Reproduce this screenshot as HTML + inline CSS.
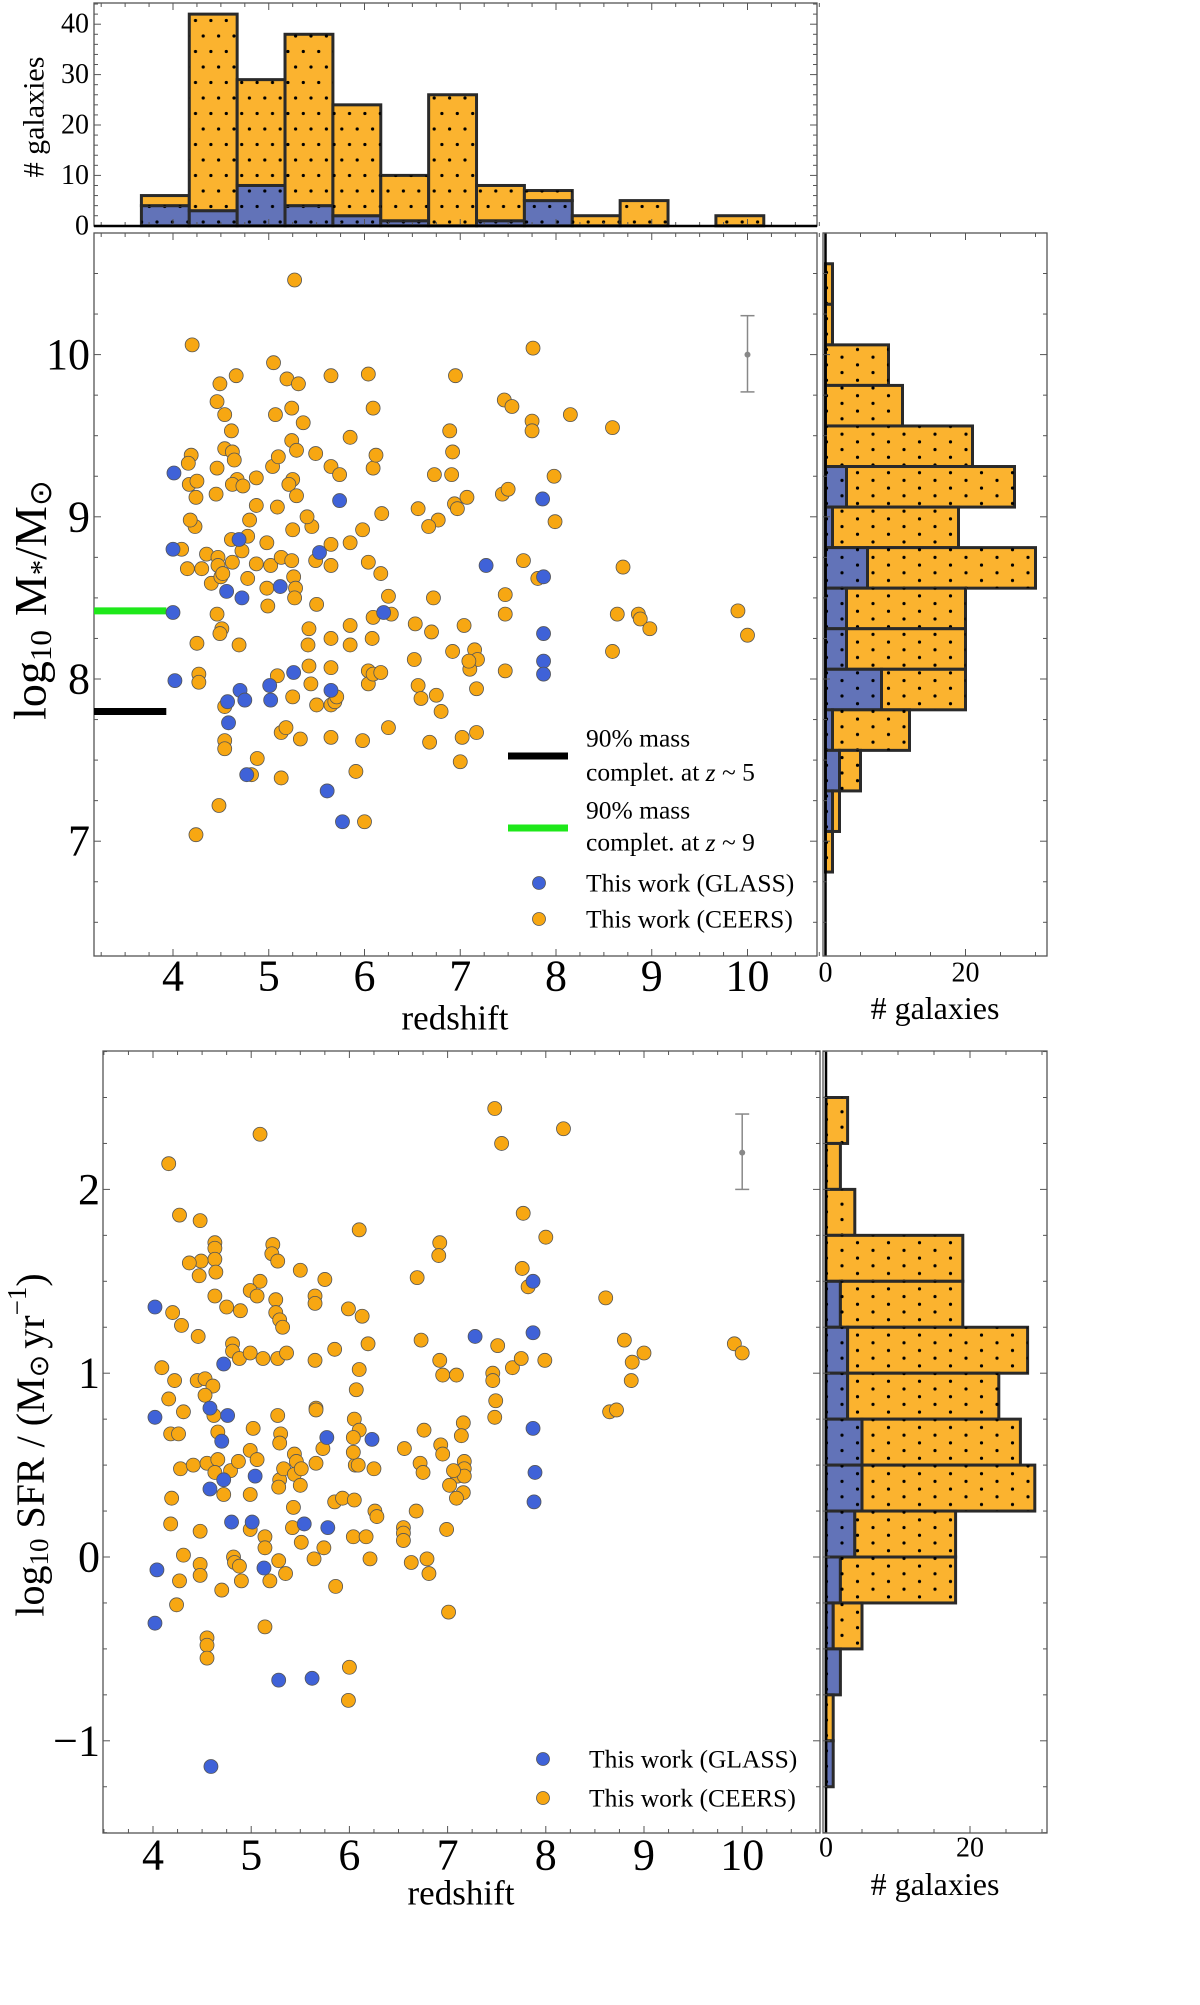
<!DOCTYPE html>
<html><head><meta charset="utf-8"><style>
html,body{margin:0;padding:0;background:#fff;}
svg{display:block;font-family:"Liberation Serif",serif;}
</style></head><body>
<svg id="fig" width="1200" height="2005" viewBox="0 0 1200 2005" xmlns="http://www.w3.org/2000/svg">
<defs>
<pattern id="dots" width="15.4" height="31" patternUnits="userSpaceOnUse">
<circle cx="3" cy="5" r="1.6" fill="#000"/><circle cx="10.7" cy="20.5" r="1.6" fill="#000"/>
</pattern>
<pattern id="dotsH" width="31" height="15.4" patternUnits="userSpaceOnUse">
<circle cx="5" cy="3" r="1.6" fill="#000"/><circle cx="20.5" cy="10.7" r="1.6" fill="#000"/>
</pattern>
</defs>
<g id="root"></g>
</svg>
<script>
// ---------- DATA ----------
const topBinStart = 3.67, topBinWidth = 0.5;
const topGlass = [4,3,8,4,2,1,0,1,5,0,0,0,0];
const topTotal = [6,42,29,38,24,10,26,8,7,2,5,0,2];
const massBinTop = 10.56, massBinWidth = 0.25;
const massGlass = [0,0,0,0,0,3,1,6,3,3,8,1,2,1,0];
const massTotal = [1,1,9,11,21,27,19,30,20,20,20,12,5,2,1];
const sfrBinTop = 2.5, sfrBinWidth = 0.25;
const sfrGlass = [0,0,0,0,2,3,3,5,5,4,2,1,2,0,1];
const sfrTotal = [3,2,4,19,19,28,24,27,29,18,18,5,2,1,1];

const aGlassZ = [4.01,4.0,4.0,4.02,4.56,4.69,4.72,4.58,4.57,4.70,4.75,4.77,5.01,5.02,5.12,5.26,5.53,5.65,5.61,5.77,5.74,6.20,7.27,7.86,7.87,7.87,7.87,7.87];
const aGlassM = [9.27,8.80,8.41,7.99,8.54,8.86,8.50,7.73,7.86,7.93,7.87,7.41,7.96,7.87,8.57,8.04,8.78,7.93,7.31,7.12,9.10,8.41,8.70,9.11,8.63,8.28,8.11,8.03];
const aCeersZ = [5.27,4.20,7.76,5.05,4.66,4.49,5.19,5.31,5.65,6.04,6.95,4.46,4.54,5.07,5.24,6.09,7.46,7.54,8.15,8.59,7.75,7.75,6.89,4.61,5.36,5.85,4.19,4.16,4.54,4.62,4.64,4.46,4.67,4.62,4.17,4.25,4.24,4.45,4.73,4.87,5.04,5.10,5.24,5.29,5.25,5.21,5.29,5.49,5.65,5.74,6.09,6.12,6.73,6.91,6.92,7.07,6.94,6.97,6.56,6.77,6.67,6.18,5.98,5.85,5.65,5.45,5.40,5.09,5.25,4.80,4.87,4.23,4.18,4.09,4.15,4.30,4.35,4.40,4.47,4.47,4.50,4.52,4.61,4.62,4.72,4.78,4.78,4.87,4.98,4.98,4.99,5.02,5.13,5.24,5.26,5.28,5.27,5.49,5.65,5.50,5.42,5.41,5.42,5.65,5.65,5.85,5.85,6.04,6.17,6.25,6.28,6.09,6.08,6.53,6.70,6.72,7.04,6.92,7.15,7.18,7.10,7.09,7.17,7.47,7.47,7.47,7.66,7.81,7.44,7.50,7.98,7.99,8.70,8.59,8.64,8.86,8.88,8.98,9.90,10.0,4.25,4.27,4.27,4.46,4.51,4.49,4.69,4.54,4.54,4.54,4.48,4.24,4.88,4.82,5.09,5.25,5.13,5.13,5.18,5.33,5.44,5.50,5.65,5.65,5.69,5.71,5.91,5.98,6.00,6.04,6.04,6.09,6.17,6.25,6.56,6.59,6.75,6.80,6.68,7.00,7.02,7.17,6.52];
const aCeersM = [10.46,10.06,10.04,9.95,9.87,9.82,9.85,9.82,9.87,9.88,9.87,9.71,9.63,9.63,9.67,9.67,9.72,9.68,9.63,9.55,9.59,9.53,9.53,9.53,9.58,9.49,9.38,9.33,9.42,9.40,9.35,9.30,9.23,9.20,9.20,9.22,9.12,9.14,9.19,9.24,9.31,9.37,9.47,9.41,9.23,9.20,9.13,9.39,9.31,9.26,9.30,9.38,9.26,9.26,9.40,9.12,9.08,9.05,9.05,8.98,8.94,9.02,8.92,8.84,8.83,8.94,9.00,9.06,8.92,8.98,9.07,8.94,8.98,8.80,8.68,8.68,8.77,8.59,8.75,8.70,8.63,8.65,8.86,8.72,8.79,8.88,8.62,8.71,8.84,8.56,8.45,8.70,8.75,8.73,8.63,8.56,8.50,8.73,8.70,8.46,8.31,8.21,8.08,8.25,8.07,8.33,8.21,8.72,8.65,8.51,8.40,8.38,8.25,8.34,8.29,8.50,8.33,8.17,8.18,8.12,8.06,8.11,7.94,8.05,8.40,8.52,8.73,8.62,9.14,9.17,9.25,8.97,8.69,8.17,8.40,8.40,8.37,8.31,8.42,8.27,8.22,8.03,7.98,8.40,8.31,8.28,8.21,7.83,7.62,7.57,7.22,7.04,7.51,7.41,8.02,7.89,7.39,7.67,7.70,7.63,7.97,7.84,7.64,7.84,7.86,7.89,7.43,7.62,7.12,8.05,7.97,8.03,8.04,7.70,7.96,7.88,7.90,7.80,7.61,7.49,7.64,7.67,8.12];

const bGlassZ = [4.02,4.02,4.04,4.02,4.58,4.58,4.72,4.70,4.76,4.72,4.59,4.80,5.04,5.01,5.13,5.28,5.54,5.62,5.77,5.78,6.23,7.28,7.87,7.87,7.87,7.89,7.88];
const bGlassS = [1.36,0.76,-0.07,-0.36,0.81,0.37,1.05,0.63,0.77,0.42,-1.14,0.19,0.44,0.19,-0.06,-0.67,0.18,-0.66,0.65,0.16,0.64,1.20,1.50,1.22,0.70,0.46,0.30];
const bCeersZ = [7.48,7.55,8.18,5.09,4.16,4.27,4.48,6.10,7.77,8.00,4.63,4.63,4.63,4.64,4.49,4.37,4.47,5.22,5.21,5.27,5.09,5.50,5.75,6.69,6.92,6.91,7.76,7.82,8.61,4.99,5.06,4.63,4.75,4.89,4.20,4.29,4.46,5.25,5.25,5.29,5.32,5.65,5.65,5.99,6.13,4.81,4.81,4.88,4.99,5.12,5.27,5.36,5.65,5.85,6.19,6.10,6.07,6.73,6.92,6.95,7.09,7.46,7.46,7.51,7.66,7.75,7.99,8.80,9.00,8.88,8.87,9.92,10.0,8.65,8.72,7.49,7.48,4.09,4.22,4.45,4.53,4.61,4.53,4.16,4.31,4.62,4.18,4.26,4.66,5.02,5.27,5.30,5.29,5.66,5.66,6.05,6.10,6.04,6.76,6.56,6.93,6.95,7.16,7.14,7.17,7.17,7.10,7.17,7.16,7.09,7.02,7.06,6.72,6.75,4.28,4.41,4.55,4.66,4.63,4.72,4.79,4.87,4.99,4.99,5.06,5.29,5.28,5.33,5.44,5.46,5.44,5.51,5.50,5.66,5.73,6.06,6.09,6.25,6.04,5.85,5.93,6.05,6.26,6.28,6.68,6.99,6.55,6.55,6.55,4.19,4.18,4.48,4.99,5.14,5.43,5.42,5.51,5.74,6.04,6.17,5.14,4.31,4.82,4.83,4.48,4.88,5.28,5.64,6.21,6.63,6.79,6.81,4.27,4.48,4.70,4.90,5.19,5.35,5.86,4.24,5.14,7.01,4.55,4.55,4.55,6.00,5.99];
const bCeersS = [2.44,2.25,2.33,2.30,2.14,1.86,1.83,1.78,1.87,1.74,1.71,1.68,1.62,1.55,1.61,1.60,1.53,1.70,1.65,1.61,1.50,1.56,1.51,1.52,1.71,1.64,1.57,1.47,1.41,1.45,1.42,1.42,1.36,1.34,1.33,1.26,1.20,1.40,1.33,1.29,1.25,1.42,1.38,1.35,1.31,1.16,1.12,1.08,1.11,1.08,1.08,1.11,1.07,1.13,1.16,1.02,0.91,1.18,1.07,0.99,0.99,1.00,0.96,1.15,1.03,1.08,1.07,1.18,1.11,1.06,0.96,1.16,1.11,0.79,0.80,0.85,0.76,1.03,0.96,0.96,0.97,0.93,0.88,0.86,0.79,0.77,0.67,0.67,0.68,0.70,0.77,0.67,0.62,0.81,0.80,0.75,0.69,0.65,0.69,0.59,0.61,0.56,0.73,0.66,0.52,0.48,0.44,0.44,0.35,0.32,0.39,0.47,0.51,0.46,0.48,0.50,0.51,0.53,0.46,0.34,0.47,0.52,0.58,0.34,0.53,0.42,0.38,0.48,0.56,0.52,0.45,0.48,0.39,0.51,0.59,0.50,0.50,0.48,0.57,0.30,0.32,0.31,0.25,0.22,0.25,0.15,0.16,0.13,0.09,0.32,0.18,0.14,0.15,0.11,0.27,0.16,0.08,0.05,0.11,0.11,0.05,0.01,0.00,-0.03,-0.04,-0.05,-0.02,-0.01,-0.01,-0.03,-0.01,-0.09,-0.13,-0.10,-0.18,-0.13,-0.13,-0.09,-0.16,-0.26,-0.38,-0.30,-0.44,-0.48,-0.55,-0.60,-0.78];

const xTicks = [4,5,6,7,8,9,10];
const massTicks = [7,8,9,10];
const sfrTicks = [-1,0,1,2];
const topCountTicks = [0,10,20,30,40];
const sideCountTicks = [0,20];

// ---------- SCALES ----------
const xA = z => 173 + (z-4)*95.75;
const yM = m => 354.6 - (m-10)*162.2;
const yH = c => 225.8 - c*5.04;
const xCA = c => 825.5 + c*7.0;
const xB = z => 153 + (z-4)*98.2;
const yS = s => 1557 - s*183.8;
const xCB = c => 826 + c*7.2;

const NS = "http://www.w3.org/2000/svg";
const root = document.getElementById('root');
function el(tag, attrs, parent){
  const e = document.createElementNS(NS, tag);
  for (const k in attrs) e.setAttribute(k, attrs[k]);
  (parent||root).appendChild(e);
  return e;
}
function txt(x,y,s,size,anchor,parent){
  const t = el('text',{x:x,y:y,'font-size':size,'text-anchor':anchor||'middle','dominant-baseline':'central',fill:'#000'},parent);
  t.textContent = s;
  return t;
}
function frame(x0,y0,x1,y1,name){
  const r = el('rect',{x:x0,y:y0,width:x1-x0,height:y1-y0,fill:'none',stroke:'#555','stroke-width':1.3});
  
  
}
function xMinorTicks(scale, lo, hi, step, y0, y1){
  for (let v = lo; v <= hi+1e-9; v += step){
    const major = Math.abs(v-Math.round(v))<1e-6;
    const L = major?7:4;
    el('line',{x1:scale(v),x2:scale(v),y1:y1,y2:y1-L,stroke:'#555','stroke-width':1});
    el('line',{x1:scale(v),x2:scale(v),y1:y0,y2:y0+L,stroke:'#555','stroke-width':1});
  }
}
function yMinorTicks(scale, lo, hi, step, x0, x1, majorStep){
  for (let v = lo; v <= hi+1e-9; v += step){
    const major = Math.abs(v/majorStep-Math.round(v/majorStep))<1e-6;
    const L = major?7:4;
    el('line',{y1:scale(v),y2:scale(v),x1:x0,x2:x0+L,stroke:'#555','stroke-width':1});
    el('line',{y1:scale(v),y2:scale(v),x1:x1,x2:x1-L,stroke:'#555','stroke-width':1});
  }
}

// ---------- TOP HISTOGRAM ----------
const gTop = el('g',{});


frame(94,3,817,226,'redshift-histogram-frame');
xMinorTicks(xA, 3.25, 10.75, 0.25, 3, 226);
yMinorTicks(yH, 0, 44, 2, 94, 817, 10);
topTotal.forEach((tot,i)=>{
  const x0 = xA(topBinStart+i*topBinWidth), x1 = xA(topBinStart+(i+1)*topBinWidth);
  const b = topGlass[i];
  if (b>0){
    const r1 = el('rect',{x:x0,y:yH(b),width:x1-x0,height:yH(0)-yH(b),fill:'#6273b8',stroke:'#2a2a2a','stroke-width':3},gTop);
    
    
    el('rect',{x:x0,y:yH(b),width:x1-x0,height:yH(0)-yH(b),fill:'url(#dots)'},gTop);
  }
  if (tot>b){
    const r2 = el('rect',{x:x0,y:yH(tot),width:x1-x0,height:yH(b)-yH(tot),fill:'#fbb32f',stroke:'#2a2a2a','stroke-width':3},gTop);
    
    
    el('rect',{x:x0,y:yH(tot),width:x1-x0,height:yH(b)-yH(tot),fill:'url(#dots)'},gTop);
  }
});
el('line',{x1:94,x2:817,y1:226,y2:226,stroke:'#000','stroke-width':2.5});
topCountTicks.forEach(v=>{
  const t = txt(89,yH(v),String(v),28,'end');
  
  
});
const tyl = txt(0,0,'# galaxies',30,'middle');
tyl.setAttribute('transform','translate(34,117) rotate(-90)');



// ---------- PANEL A: MASS ----------
frame(94,233,817,956,'mass-scatter-frame');
xMinorTicks(xA, 3.25, 10.75, 0.25, 233, 956);
yMinorTicks(yM, 6.5, 10.75, 0.25, 94, 817, 1);
xTicks.forEach(v=>{
  const t = txt(xA(v),976,String(v),44,'middle');
  
  
});
massTicks.forEach(v=>{
  const t = txt(90,yM(v),String(v),44,'end');
  
  
});
const xlA = txt(455,1018,'redshift',35,'middle');


const ylA = el('text',{'font-size':46,'text-anchor':'middle','dominant-baseline':'central'});
ylA.setAttribute('transform','translate(30,600) rotate(-90)');


ylA.innerHTML = 'log<tspan font-size="31" dy="10">10</tspan><tspan dy="-10" dx="14">M</tspan><tspan font-size="31" dy="10">*</tspan><tspan dy="-10">/M</tspan><tspan font-size="31" dy="10">⊙</tspan>';
// completeness lines
const cl5 = el('line',{x1:94,x2:xA(3.93),y1:yM(7.80),y2:yM(7.80),stroke:'#000','stroke-width':7});


const cl9 = el('line',{x1:94,x2:xA(3.93),y1:yM(8.42),y2:yM(8.42),stroke:'#1ee81a','stroke-width':7});


// error bar
function errbar(xs,yc,ylo,yhi,name){
  const g = el('g',{stroke:'#888','stroke-width':1.5});
  
  
  el('line',{x1:xs,x2:xs,y1:ylo,y2:yhi},g);
  el('line',{x1:xs-7,x2:xs+7,y1:ylo,y2:ylo},g);
  el('line',{x1:xs-7,x2:xs+7,y1:yhi,y2:yhi},g);
  el('circle',{cx:xs,cy:yc,r:3,fill:'#888',stroke:'none'},g);
}
errbar(xA(10),yM(10),yM(9.77),yM(10.24),'mass-error-bar');
function scatter(zs,vs,xs,ys,fill,name){
  zs.forEach((z,i)=>{
    const c = el('circle',{cx:xs(z),cy:ys(vs[i]),r:7,fill:fill,stroke:'#555','stroke-width':0.8});
    
    
  });
}
scatter(aCeersZ,aCeersM,xA,yM,'#f7a712','ceers-point');
scatter(aGlassZ,aGlassM,xA,yM,'#3f62d8','glass-point');
// legend A
const lgA = el('g',{});


el('line',{x1:508,x2:568,y1:756,y2:756,stroke:'#000','stroke-width':7},lgA);
el('line',{x1:508,x2:568,y1:828,y2:828,stroke:'#1ee81a','stroke-width':7},lgA);
txt(586,738,'90% mass',25.5,'start',lgA);
txt(586,772,'complet. at z ~ 5',25.5,'start',lgA).innerHTML='complet. at <tspan font-style="italic">z</tspan> ~ 5';
txt(586,810,'90% mass',25.5,'start',lgA);
txt(586,842,'complet. at z ~ 9',25.5,'start',lgA).innerHTML='complet. at <tspan font-style="italic">z</tspan> ~ 9';
el('circle',{cx:539,cy:883,r:6.5,fill:'#3f62d8',stroke:'#555','stroke-width':0.8},lgA);
el('circle',{cx:539,cy:919,r:6.5,fill:'#f7a712',stroke:'#555','stroke-width':0.8},lgA);
txt(586,883,'This work (GLASS)',25.5,'start',lgA);
txt(586,919,'This work (CEERS)',25.5,'start',lgA);

// side hist
function sideHist(glass,total,topEdge,w,ys,xc,name,frameY0,frameY1){
  const g = el('g',{});
  
  
  frame(823,frameY0,1047,frameY1,name+'-frame');
  total.forEach((tot,i)=>{
    const y0 = ys(topEdge-i*w), y1 = ys(topEdge-(i+1)*w);
    const b = glass[i];
    if (b>0){
      const r = el('rect',{x:xc(0),y:y0,width:xc(b)-xc(0),height:y1-y0,fill:'#6273b8',stroke:'#2a2a2a','stroke-width':3},g);
      
      
      el('rect',{x:xc(0),y:y0,width:xc(b)-xc(0),height:y1-y0,fill:'url(#dotsH)'},g);
    }
    if (tot>b){
      const r = el('rect',{x:xc(b),y:y0,width:xc(tot)-xc(b),height:y1-y0,fill:'#fbb32f',stroke:'#2a2a2a','stroke-width':3},g);
      
      
      el('rect',{x:xc(b),y:y0,width:xc(tot)-xc(b),height:y1-y0,fill:'url(#dotsH)'},g);
    }
  });
  el('line',{x1:xc(0),x2:xc(0),y1:frameY0,y2:frameY1,stroke:'#000','stroke-width':2.5},g);
  for (let c=5;c<=30;c+=5){
    const L = c%20===0?7:4;
    el('line',{x1:xc(c),x2:xc(c),y1:frameY1,y2:frameY1-L,stroke:'#555'},g);
    el('line',{x1:xc(c),x2:xc(c),y1:frameY0,y2:frameY0+L,stroke:'#555'},g);
  }
  return g;
}
sideHist(massGlass,massTotal,massBinTop,massBinWidth,yM,xCA,'mass-histogram',233,956);
yMinorTicks(yM, 6.5, 10.75, 0.25, 823, 1047, 1);
sideCountTicks.forEach(v=>{
  const t = txt(xCA(v),973,String(v),28,'middle');
  
  
});
const ghA = txt(935,1008,'# galaxies',32,'middle');



// ---------- PANEL B: SFR ----------
frame(103,1051,820,1833,'sfr-scatter-frame');
xMinorTicks(xB, 3.5, 10.75, 0.25, 1051, 1833);
yMinorTicks(yS, -1.5, 2.75, 0.25, 103, 820, 1);
xTicks.forEach(v=>{
  const t = txt(xB(v),1855,String(v),44,'middle');
  
  
});
sfrTicks.forEach(v=>{
  const t = txt(100,yS(v),v<0?'\u2212'+Math.abs(v):String(v),44,'end');
  
  
});
const xlB = txt(461,1893,'redshift',35,'middle');


const ylB = el('text',{'font-size':40,'text-anchor':'middle','dominant-baseline':'central'});
ylB.setAttribute('transform','translate(30,1445) rotate(-90)');


ylB.innerHTML = 'log<tspan font-size="27" dy="9">10</tspan><tspan dy="-9" dx="10">SFR / (M</tspan><tspan font-size="27" dy="9">⊙</tspan><tspan dy="-9" dx="6">yr</tspan><tspan font-size="27" dy="-13">−1</tspan><tspan dy="13">)</tspan>';
errbar(xB(10),yS(2.2),yS(2.0),yS(2.41),'sfr-error-bar');
scatter(bCeersZ,bCeersS,xB,yS,'#f7a712','ceers-point');
scatter(bGlassZ,bGlassS,xB,yS,'#3f62d8','glass-point');
const lgB = el('g',{});


el('circle',{cx:543,cy:1759,r:6.5,fill:'#3f62d8',stroke:'#555','stroke-width':0.8},lgB);
el('circle',{cx:543,cy:1798,r:6.5,fill:'#f7a712',stroke:'#555','stroke-width':0.8},lgB);
txt(589,1759,'This work (GLASS)',25.5,'start',lgB);
txt(589,1798,'This work (CEERS)',25.5,'start',lgB);
sideHist(sfrGlass,sfrTotal,sfrBinTop,sfrBinWidth,yS,xCB,'sfr-histogram',1051,1833);
yMinorTicks(yS, -1.5, 2.75, 0.25, 823, 1047, 1);
sideCountTicks.forEach(v=>{
  const t = txt(xCB(v),1848,String(v),28,'middle');
  
  
});
const ghB = txt(935,1884,'# galaxies',32,'middle');


</script>
</body></html>
